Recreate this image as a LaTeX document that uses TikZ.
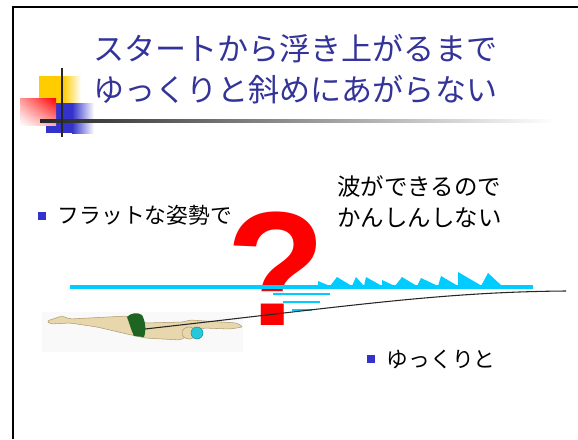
\documentclass[tikz,border=0pt]{standalone}
\usepackage{fontspec}
\newfontfamily\jpfont{Noto Sans CJK JP}
\newfontfamily\qmarkfont{Liberation Sans}
\usetikzlibrary{positioning, shadings}
\definecolor{TitleBlue}{RGB}{51, 51, 153}
\definecolor{MarkBlue}{RGB}{51, 51, 204}
\definecolor{WaveCyan}{RGB}{0, 204, 255}
\definecolor{DecoYellow}{RGB}{255, 204, 0}
\definecolor{DecoBlue}{RGB}{51, 51, 204}
\definecolor{Skin}{RGB}{232, 214, 172}
\definecolor{SkinLine}{RGB}{175, 155, 115}
\definecolor{SuitGreen}{RGB}{30, 100, 35}
\definecolor{CapCyan}{RGB}{40, 200, 220}
\tikzset{%
  slide_frame/.style={%
    draw=black,%
    line width=1.8pt,%
  },
  slide_title/.style={%
    font={\jpfont\fontsize{23.3}{30.5}\selectfont},%
    text=TitleBlue,%
    align=left,%
    inner sep=0pt,%
    anchor=base west,%
  },
  bullet_mark/.style={%
    rectangle,%
    fill=MarkBlue,%
    minimum size=6pt,%
    inner sep=0pt,%
  },
  bullet_text/.style={%
    font={\jpfont\fontsize{16.3}{20}\selectfont},%
    inner sep=0pt,%
  },
  note_text/.style={%
    font={\jpfont\fontsize{17.6}{23.25}\selectfont},%
    align=left,%
    inner sep=0pt,%
    anchor=base west,%
  },
  question_mark/.style={%
    font={\qmarkfont\bfseries\fontsize{122}{122}\selectfont},%
    text=red,%
    inner sep=0pt,%
    anchor=base,%
  },
  water_line/.style={%
    draw=WaveCyan,%
    line width=3pt,%
  },
  ripple/.style={%
    draw=WaveCyan,%
    line width=2.2pt,%
  },
  wave_crest/.style={%
    fill=WaveCyan,%
  },
  path_line/.style={%
    draw=black!85,%
    line width=0.8pt,%
  },
  swimmer_skin/.style={%
    fill=Skin,%
    draw=SkinLine,%
    line width=0.4pt,%
    rounded corners=1.5pt,%
  },
}

\begin{document}
\begin{tikzpicture}[x=0.75pt, y=-0.75pt]
  \useasboundingbox (0,0) rectangle (578,439);
  % frame
  \draw [slide_frame] (13,439) -- (13,7) -- (578,7);

  % title ornament
  \fill [DecoYellow] (39,76) rectangle (63,103);
  \shade [left color=DecoYellow, right color=white] (63,76) rectangle (81,103);
  \fill [DecoBlue] (46,103) rectangle (72,133);
  \shade [left color=DecoBlue, right color=white] (72,103) rectangle (94,133);
  \shade [upper left=red!40, upper right=red, lower left=white, lower right=red!35]
    (20,98) rectangle (56,125);
  \shade [left color=black!85, middle color=black!50, right color=white]
    (40,119.6) rectangle (555,122.4);
  \fill [black!85] (60.5,68) rectangle (62.8,137);

  % base anchor sits on the last line
  \node [slide_title] (title) at (93,101)
    {スタートから浮き上がるまで\\ゆっくりと斜めにあがらない};

  % bullets
  \node [bullet_mark] (mark_flat) at (42,215.5) {};
  \node [bullet_text, right=8.5pt of mark_flat] (flat) {フラットな姿勢で};
  \node [bullet_mark] (mark_slow) at (371,359) {};
  \node [bullet_text, right=8.5pt of mark_slow] (slow) {ゆっくりと};

  \node [note_text] (wave_note) at (337,226) {波ができるので\\かんしんしない};

  \node [question_mark] (qmark) at (276,325) {?};

  % water surface
  \coordinate (water_start) at (70,287);
  \coordinate (water_end) at (533,287);
  \draw [water_line] (water_start) -- (water_end);
  \foreach \l/\px/\py/\r in {318/318/281/330, 330/337/277/352, 352/356/277/364,
      364/366/277/382, 382/382/280/395, 395/402/277/417, 417/421/278/438,
      438/441/276/458, 458/458/272/482, 481/488/273/502}
    \fill [wave_crest] (\l,286) -- (\px,\py) -- (\r,286) -- cycle;
  \draw [ripple] (273,294) -- (330,294);
  \draw [ripple] (283,302) -- (320,302);
  \draw [ripple] (292,310) -- (312,310);

  % swimmer
  \fill [black!2.5] (42,312) rectangle (243,352);
  \filldraw [swimmer_skin]
    (47,321) -- (62,316) -- (70,319) -- (127,316) -- (145,323) -- (183,322)
    -- (190,320) -- (237,323) -- (243,327) -- (230,329) -- (203,328)
    -- (180,340) -- (145,338) -- (127,334) -- (97,327) -- (70,323)
    -- (50,324) -- cycle;
  \fill [SuitGreen]
    (127,317) .. controls (130,313) and (138,312) .. (142,315)
    .. controls (146,322) and (146,332) .. (144,337)
    -- (134,336) .. controls (131,330) and (129,322) .. (127,317);
  \filldraw [swimmer_skin] (189,333) ellipse (7 and 6);
  \filldraw [fill=CapCyan, draw=CapCyan!70!black, line width=0.4pt] (197,333) circle (6);

  % rising path
  \coordinate (hip) at (145,329);
  \coordinate (surface) at (566,291);
  \draw [path_line] (hip) .. controls (350,306) and (440,292) .. (surface);
\end{tikzpicture}
\end{document}
